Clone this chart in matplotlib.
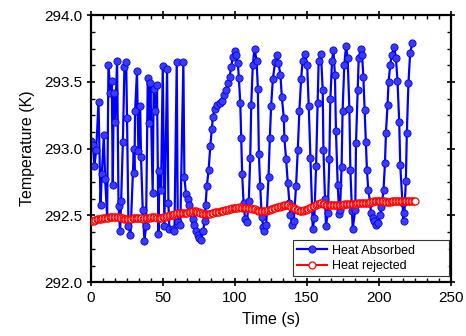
import matplotlib
matplotlib.use("Agg")
import matplotlib.pyplot as plt
from matplotlib.ticker import MultipleLocator, AutoMinorLocator

plt.rcParams['font.family'] = ['Liberation Sans', 'DejaVu Sans']

# Heat absorbed (blue) - time (s) and temperature (K)
absorbed_t = [
    0.2, 1.4, 2.5, 3.7, 5.3, 6.7, 7.6, 9.0, 9.9, 11.3,
    12.2, 13.6, 14.5, 15.2, 15.9, 16.8, 18.2, 19.2, 20.3, 21.0,
    22.2, 23.3, 24.5, 25.1, 26.1, 27.5, 29.8, 30.2, 30.7, 32.0,
    33.0, 34.2, 34.8, 36.0, 37.2, 38.3, 39.5, 40.6, 41.3, 42.9,
    43.6, 44.8, 45.9, 46.9, 47.6, 48.7, 49.9, 51.0, 52.9, 53.8,
    54.5, 56.8, 58.0, 59.6, 60.3, 62.1, 64.2, 64.9, 66.0, 67.2,
    68.3, 69.5, 70.6, 71.8, 72.9, 74.1, 75.3, 76.6, 77.8, 79.0,
    79.6, 80.5, 81.7, 82.9, 84.0, 84.7, 85.9, 87.5, 89.3, 90.9,
    92.3, 94.0, 95.1, 96.3, 97.4, 98.6, 99.7, 100.4, 102.0, 102.7,
    103.7, 104.3, 105.0, 106.0, 107.1, 108.3, 109.6, 110.6, 111.3, 112.4,
    113.6, 115.0, 115.9, 116.6, 117.5, 118.6, 119.8, 120.5, 121.7, 123.3,
    124.2, 125.1, 126.3, 127.9, 129.0, 130.2, 131.6, 132.5, 133.9, 134.3,
    135.5, 136.7, 137.8, 138.5, 139.7, 140.8, 142.4, 143.6, 144.7, 145.9,
    147.0, 148.7, 150.1, 151.2, 152.4, 154.0, 155.1, 156.3, 157.4, 158.1,
    159.7, 160.9, 161.4, 162.5, 163.2, 164.4, 165.5, 166.2, 167.4, 168.3,
    169.4, 170.1, 171.3, 172.4, 172.9, 174.0, 174.7, 175.9, 177.1, 178.2,
    179.4, 180.1, 181.2, 181.7, 183.5, 184.0, 185.2, 185.9, 187.5, 188.2,
    189.1, 190.0, 190.9, 191.6, 192.5, 193.9, 194.4, 195.5, 196.7, 197.9,
    199.4, 200.8, 201.7, 203.1, 204.1, 204.8, 205.9, 206.6, 207.8, 208.7,
    210.5, 211.7, 212.8, 214.0, 214.7, 216.3, 217.0, 217.6, 218.6, 219.3,
    220.4, 221.6, 223.2,
]
absorbed_T = [
    293.06, 293.03, 292.87, 292.99, 293.35, 292.58, 292.81, 293.10, 292.77, 292.49,
    293.63, 293.42, 293.51, 292.73, 293.42, 293.20, 293.66, 292.57, 292.38, 292.61,
    293.05, 293.61, 293.65, 293.23, 292.42, 292.35, 293.00, 292.82, 293.28, 293.58,
    292.98, 293.32, 292.94, 292.54, 292.31, 292.42, 293.53, 293.19, 293.49, 292.67,
    293.45, 293.28, 293.48, 292.36, 292.83, 292.69, 293.62, 292.42, 293.60, 292.59,
    292.40, 292.40, 292.38, 293.65, 292.45, 292.43, 293.65, 292.79, 292.66, 292.62,
    292.58, 292.52, 292.47, 292.43, 292.38, 292.35, 292.33, 292.32, 292.38, 292.46,
    292.58, 292.72, 292.84, 293.02, 293.15, 293.24, 293.30, 293.33, 293.34, 293.36,
    293.40, 293.44, 293.49, 293.54, 293.61, 293.69, 293.73, 293.70, 293.64, 293.53,
    293.34, 293.08, 292.81, 292.59, 292.47, 292.45, 292.61, 292.93, 293.33, 293.63,
    293.75, 293.66, 293.45, 292.96, 292.72, 292.49, 292.41, 292.38, 292.43, 292.79,
    293.08, 293.32, 293.52, 293.65, 293.70, 293.64, 293.55, 293.39, 293.23, 293.08,
    292.92, 292.74, 292.59, 292.50, 292.43, 292.46, 292.72, 292.99, 293.28, 293.52,
    293.66, 293.71, 293.63, 293.32, 292.93, 292.40, 292.48, 292.87, 293.34, 293.66,
    293.71, 293.44, 292.99, 292.62, 292.42, 292.52, 292.92, 293.37, 293.66, 293.74,
    293.55, 293.13, 292.73, 292.51, 292.54, 292.86, 293.28, 293.63, 293.77, 293.68,
    293.30, 292.84, 292.53, 292.40, 292.54, 293.04, 293.44, 293.68, 293.75, 293.70,
    293.54, 293.29, 293.05, 292.84, 292.69, 292.59, 292.52, 292.48, 292.46, 292.43,
    292.44, 292.50, 292.56, 292.69, 292.89, 293.12, 293.33, 293.50, 293.63, 293.70,
    293.76, 293.68, 293.51, 293.20, 292.88, 292.59, 292.46, 292.52, 292.76, 293.12,
    293.49, 293.72, 293.79,
]

# Heat rejected (red) - one reading per second from 0 to 225 s
rejected_t = list(range(0, 226))
rejected_T = [
    292.455, 292.458, 292.462, 292.466, 292.470, 292.472, 292.474, 292.476, 292.478, 292.479,
    292.480, 292.482, 292.484, 292.486, 292.487, 292.488, 292.489, 292.490, 292.490, 292.489,
    292.486, 292.482, 292.478, 292.474, 292.471, 292.470, 292.470, 292.472, 292.475, 292.478,
    292.480, 292.482, 292.482, 292.481, 292.479, 292.478, 292.477, 292.478, 292.479, 292.480,
    292.481, 292.483, 292.485, 292.486, 292.486, 292.485, 292.484, 292.483, 292.483, 292.484,
    292.486, 292.489, 292.492, 292.495, 292.498, 292.500, 292.503, 292.506, 292.509, 292.512,
    292.515, 292.517, 292.519, 292.520, 292.521, 292.521, 292.521, 292.522, 292.524, 292.526,
    292.528, 292.530, 292.531, 292.531, 292.529, 292.526, 292.522, 292.518, 292.514, 292.511,
    292.510, 292.510, 292.512, 292.514, 292.517, 292.520, 292.523, 292.525, 292.527, 292.529,
    292.530, 292.532, 292.535, 292.538, 292.541, 292.544, 292.547, 292.550, 292.553, 292.555,
    292.557, 292.558, 292.559, 292.560, 292.560, 292.559, 292.558, 292.557, 292.556, 292.555,
    292.554, 292.553, 292.551, 292.548, 292.545, 292.541, 292.537, 292.533, 292.531, 292.530,
    292.531, 292.533, 292.536, 292.540, 292.544, 292.548, 292.551, 292.555, 292.558, 292.561,
    292.564, 292.567, 292.570, 292.573, 292.576, 292.578, 292.578, 292.576, 292.572, 292.567,
    292.561, 292.555, 292.549, 292.543, 292.538, 292.535, 292.535, 292.537, 292.540, 292.543,
    292.547, 292.551, 292.556, 292.562, 292.568, 292.574, 292.580, 292.585, 292.588, 292.590,
    292.590, 292.588, 292.585, 292.582, 292.579, 292.577, 292.577, 292.578, 292.580, 292.581,
    292.581, 292.580, 292.579, 292.579, 292.580, 292.582, 292.584, 292.585, 292.586, 292.586,
    292.585, 292.584, 292.584, 292.585, 292.587, 292.590, 292.593, 292.595, 292.596, 292.596,
    292.595, 292.594, 292.595, 292.597, 292.600, 292.603, 292.605, 292.607, 292.608, 292.609,
    292.610, 292.610, 292.609, 292.607, 292.605, 292.604, 292.603, 292.603, 292.604, 292.605,
    292.606, 292.607, 292.608, 292.609, 292.610, 292.610, 292.609, 292.608, 292.607, 292.607,
    292.607, 292.607, 292.608, 292.608, 292.609, 292.610,
]

fig = plt.figure(figsize=(4.66, 3.36), dpi=100)
ax = fig.add_axes([0.195, 0.16, 0.773, 0.795])

ax.plot(absorbed_t, absorbed_T, color='#0000ff', lw=1.6, marker='o', ms=5.2,
        mfc='#3a3aff', mec='#0000dd', mew=0.6, label='Heat Absorbed', zorder=2)
ax.plot(rejected_t, rejected_T, color='#ff0000', lw=1.4, marker='o', ms=5,
        mfc='white', mec='#ff0000', mew=0.9, label='Heat rejected', zorder=3)

ax.set_xlim(0, 250)
ax.set_ylim(292.0, 294.0)
ax.xaxis.set_major_locator(MultipleLocator(50))
ax.xaxis.set_minor_locator(AutoMinorLocator(6))
ax.yaxis.set_major_locator(MultipleLocator(0.5))
ax.yaxis.set_minor_locator(AutoMinorLocator(4))
ax.yaxis.set_major_formatter(matplotlib.ticker.FormatStrFormatter('%.1f'))

ax.tick_params(which='major', direction='inout', length=6, width=1.2,
               top=True, right=True, labelsize=11, pad=3)
ax.tick_params(which='minor', direction='in', length=3, width=1.0,
               top=True, right=True)
for sp in ax.spines.values():
    sp.set_linewidth(1.6)

ax.set_xlabel('Time (s)', fontsize=11.5, labelpad=5)
ax.set_ylabel('Temperature (K)', fontsize=11.5, labelpad=7)

leg = ax.legend(loc='lower left', bbox_to_anchor=(0.561, 0.022, 0.433, 0.12),
                mode='expand', fontsize=9, frameon=True, fancybox=False,
                edgecolor='black', handlelength=2.4, borderpad=0.35,
                labelspacing=0.25, handletextpad=0.4, borderaxespad=0)
leg.get_frame().set_linewidth(0.8)

plt.savefig('out.png', dpi=100)
